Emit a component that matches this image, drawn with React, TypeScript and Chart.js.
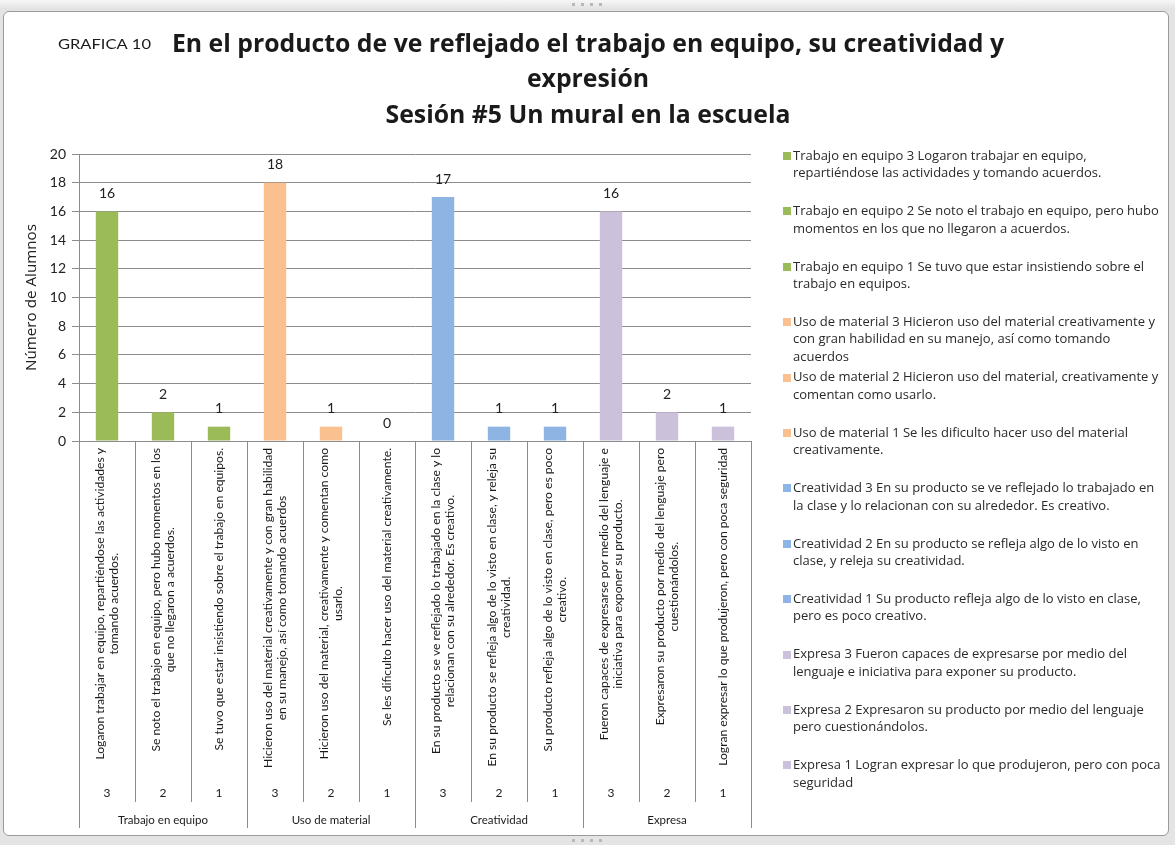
import React, { useEffect, useRef } from "react";
import { Chart, registerables } from "chart.js";

Chart.register(...registerables);

const chartTitle = [
  "En el producto de ve reflejado el trabajo en equipo, su creatividad y",
  "expresión",
  "Sesión #5 Un mural en la escuela",
];
const chartTag = "GRAFICA 10";
const yAxisTitle = "Número de Alumnos";

const groups = ["Trabajo en equipo", "Uso de material", "Creatividad", "Expresa"];
const levels = ["3", "2", "1"];
const values = [16, 2, 1, 18, 1, 0, 17, 1, 1, 16, 2, 1];
const groupColors = ["#9BBB59", "#FAC090", "#8DB4E2", "#CCC1DA"];
const yMax = 20;
const yStep = 2;

const axisLabelLines: string[][] = [
  ["Logaron trabajar en equipo, repartiéndose las actividades y", "tomando acuerdos."],
  ["Se noto el trabajo en equipo, pero hubo momentos en los", "que no llegaron a acuerdos."],
  ["Se tuvo que estar insistiendo sobre el trabajo en equipos."],
  ["Hicieron uso del material creativamente y con gran habilidad", "en su manejo, así como tomando acuerdos"],
  ["Hicieron uso del material, creativamente y comentan como", "usarlo."],
  ["Se les dificulto hacer uso del material creativamente."],
  ["En su producto se ve reflejado lo trabajado en la clase y lo", "relacionan con su alrededor. Es creativo."],
  ["En su producto se refleja algo de lo visto en clase, y releja su", "creatividad."],
  ["Su producto refleja algo de lo visto en clase, pero es poco", "creativo."],
  ["Fueron capaces de expresarse por medio del lenguaje e", "iniciativa para exponer su producto."],
  ["Expresaron su producto por medio del lenguaje pero", "cuestionándolos."],
  ["Logran expresar lo que produjeron, pero con poca seguridad"],
];

const legendLines: string[][] = [
  ["Trabajo en equipo 3 Logaron trabajar en equipo,", "repartiéndose las actividades y tomando acuerdos."],
  ["Trabajo en equipo 2 Se noto el trabajo en equipo, pero hubo", "momentos en los que no llegaron a acuerdos."],
  ["Trabajo en equipo 1 Se tuvo que estar insistiendo sobre el", "trabajo en equipos."],
  ["Uso de material 3 Hicieron uso del material creativamente y", "con gran habilidad en su manejo, así como tomando", "acuerdos"],
  ["Uso de material 2 Hicieron uso del material, creativamente y", "comentan como usarlo."],
  ["Uso de material 1 Se les dificulto hacer uso del material", "creativamente."],
  ["Creatividad 3 En su producto se ve reflejado lo trabajado en", "la clase y lo relacionan con su alrededor. Es creativo."],
  ["Creatividad 2 En su producto se refleja algo de lo visto en", "clase, y releja su creatividad."],
  ["Creatividad 1 Su producto refleja algo de lo visto en clase,", "pero es poco creativo."],
  ["Expresa 3 Fueron capaces de expresarse por medio del", "lenguaje e iniciativa para exponer su producto."],
  ["Expresa 2 Expresaron su producto por medio del lenguaje", "pero cuestionándolos."],
  ["Expresa 1 Logran expresar lo que produjeron, pero con poca", "seguridad"],
];

const FONT = "Lato, 'Open Sans', sans-serif";
const WIDE = "'Open Sans', Lato, sans-serif";
const LINE = "#8c8c8c";

const decorPlugin = {
  id: "decor",
  afterDraw(chart: any) {
    const ctx: CanvasRenderingContext2D = chart.ctx;
    const area = chart.chartArea;
    const xs = chart.scales.x;
    const n = values.length;
    const catW = (area.right - area.left) / n;
    ctx.save();

    // tag (stretched to the original's width)
    ctx.fillStyle = "#1a1a1a";
    ctx.textBaseline = "middle";
    ctx.font = `13px ${FONT}`;
    ctx.textAlign = "left";
    {
      const w = ctx.measureText(chartTag).width;
      ctx.save();
      ctx.translate(58, 45);
      ctx.scale(93 / w, 1);
      ctx.fillText(chartTag, 0, 0);
      ctx.restore();
    }
    ctx.font = `bold 24.8px ${WIDE}`;
    ctx.textAlign = "center";
    const tys = [45, 80, 116];
    chartTitle.forEach((t, i) => ctx.fillText(t, 588, tys[i]));

    // y title
    ctx.save();
    ctx.translate(32, (area.top + area.bottom) / 2);
    ctx.rotate(-Math.PI / 2);
    ctx.font = `14px ${WIDE}`;
    ctx.fillStyle = "#222";
    {
      const w = ctx.measureText(yAxisTitle).width;
      ctx.scale(147 / w, 1);
    }
    ctx.fillText(yAxisTitle, 0, 0);
    ctx.restore();

    // data labels
    const meta = chart.getDatasetMeta(0);
    ctx.font = `14px ${FONT}`;
    ctx.fillStyle = "#222";
    meta.data.forEach((el: any, i: number) => {
      ctx.fillText(String(values[i]), el.x, el.y - 18);
    });

    // x axis table lines
    ctx.strokeStyle = LINE;
    ctx.lineWidth = 1;
    for (let i = 0; i <= n; i++) {
      const x = Math.round(area.left + i * catW) + 0.5;
      const bottom = i % 3 === 0 ? 828 : 802;
      ctx.beginPath();
      ctx.moveTo(x, area.bottom);
      ctx.lineTo(x, bottom);
      ctx.stroke();
    }

    // rotated labels, stretched so the longest line spans the original wrap width
    ctx.font = `11px ${FONT}`;
    ctx.fillStyle = "#1a1a1a";
    let widest = 0;
    axisLabelLines.forEach((lines) =>
      lines.forEach((l) => {
        widest = Math.max(widest, ctx.measureText(l).width);
      })
    );
    const stretch = 320 / widest;
    const pitch = 14;
    axisLabelLines.forEach((lines, i) => {
      const cx = xs.getPixelForValue(i);
      const maxW = Math.max(...lines.map((l) => ctx.measureText(l).width)) * stretch;
      lines.forEach((l, j) => {
        const lx = cx + (j - (lines.length - 1) / 2) * pitch;
        ctx.save();
        ctx.translate(lx, area.bottom + 7 + maxW / 2);
        ctx.rotate(-Math.PI / 2);
        ctx.scale(stretch, 1);
        ctx.textAlign = "center";
        ctx.fillText(l, 0, 0);
        ctx.restore();
      });
    });

    // level numbers
    ctx.font = `12px ${FONT}`;
    ctx.textAlign = "center";
    for (let i = 0; i < n; i++) {
      ctx.fillText(levels[i % 3], xs.getPixelForValue(i), 793);
    }
    // group labels
    ctx.font = `11.5px ${FONT}`;
    groups.forEach((g, gi) => {
      ctx.fillText(g, area.left + (gi * 3 + 1.5) * catW, 820);
    });

    // legend
    ctx.textAlign = "left";
    ctx.font = `13px ${WIDE}`;
    legendLines.forEach((lines, i) => {
      const y0 = 156 + i * 55.4;
      ctx.fillStyle = groupColors[Math.floor(i / 3)];
      ctx.fillRect(783, Math.round(y0 - 4), 8, 8);
      ctx.fillStyle = "#2a2a2a";
      lines.forEach((l, j) => ctx.fillText(l, 793, y0 + j * 17.5));
    });

    ctx.restore();
  },
};

export default function App() {
  const ref = useRef<HTMLCanvasElement>(null);
  useEffect(() => {
    document.body.style.margin = "0";
    const labels = values.map((_, i) => `${groups[Math.floor(i / 3)]} ${levels[i % 3]}`);
    const colors = values.map((_, i) => groupColors[Math.floor(i / 3)]);
    const chart = new Chart(ref.current!, {
      type: "bar",
      data: {
        labels,
        datasets: [
          {
            data: values,
            backgroundColor: colors,
            borderWidth: 0,
            categoryPercentage: 1,
            barPercentage: 0.4,
          },
        ],
      },
      options: {
        animation: false,
        responsive: false,
        layout: { padding: { left: 0, top: 154, right: 424, bottom: 0 } },
        plugins: { legend: { display: false }, title: { display: false }, tooltip: { enabled: false } },
        scales: {
          y: {
            min: 0,
            max: yMax,
            ticks: { stepSize: yStep, font: { family: FONT, size: 14 }, color: "#222", padding: 6 },
            grid: { color: LINE, tickLength: 7 },
            border: { color: LINE },
            afterFit: (s: any) => {
              s.width = 79;
            },
          },
          x: {
            ticks: { display: false },
            grid: { display: false },
            border: { color: LINE },
            afterFit: (s: any) => {
              s.height = 845 - 441;
            },
          },
        },
      },
      plugins: [decorPlugin],
    });
    return () => chart.destroy();
  }, []);

  return (
    <div style={{ position: "fixed", left: 0, top: 0, width: 1175, height: 845, background: "#e4e4e4", overflow: "hidden" }}>
      <div style={{ position: "absolute", left: 0, top: 0, width: 1175, height: 10, background: "linear-gradient(#f7f7f7, #e0e0e0)" }} />
      <div style={{ position: "absolute", left: 572, top: 3, width: 30, height: 4, display: "flex", justifyContent: "space-between" }}>
        {[0, 1, 2, 3].map((k) => (
          <div key={k} style={{ width: 3, height: 3, background: "#b8b8b8" }} />
        ))}
      </div>
      <div style={{ position: "absolute", left: 572, top: 839, width: 30, height: 4, display: "flex", justifyContent: "space-between" }}>
        {[0, 1, 2, 3].map((k) => (
          <div key={k} style={{ width: 3, height: 3, background: "#b8b8b8" }} />
        ))}
      </div>
      <div
        style={{
          position: "absolute",
          left: 3,
          top: 11,
          width: 1164,
          height: 823,
          background: "#ffffff",
          border: "1px solid #9a9a9a",
          borderRadius: 6,
        }}
      />
      <canvas ref={ref} width={1175} height={845} style={{ position: "absolute", left: 0, top: 0 }} />
    </div>
  );
}
